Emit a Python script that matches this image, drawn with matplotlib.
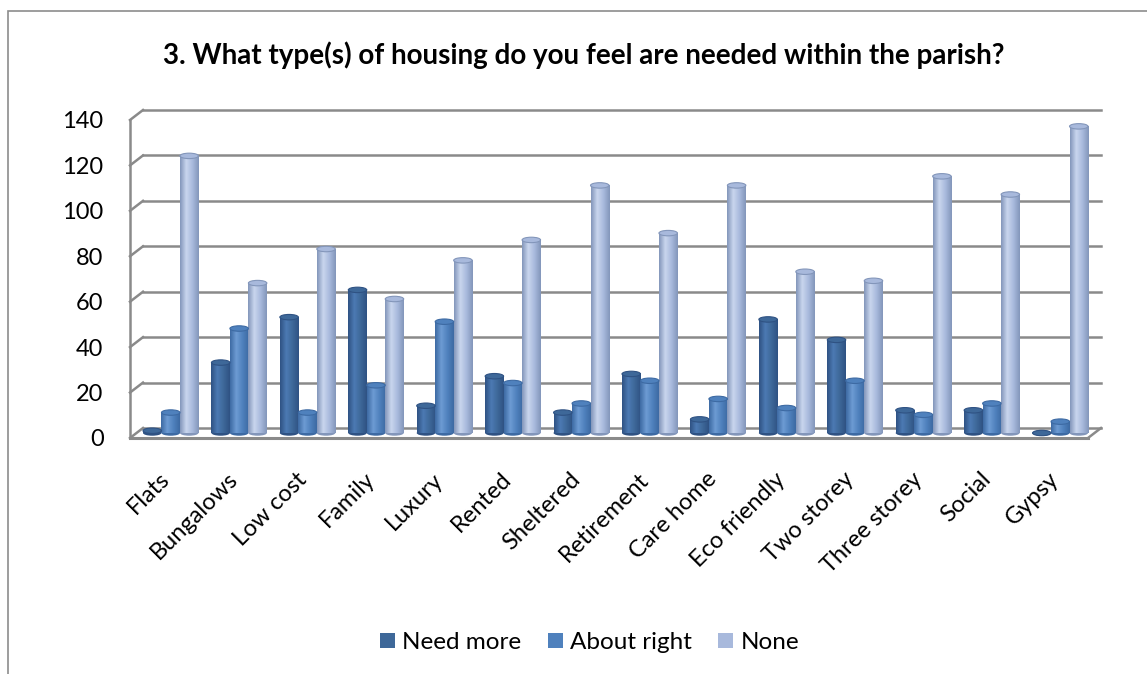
import matplotlib
matplotlib.use("Agg")
import matplotlib.pyplot as plt
import matplotlib.transforms as mtransforms
from matplotlib.patches import Ellipse, Rectangle, Patch
import numpy as np

categories = ["Flats", "Bungalows", "Low cost", "Family", "Luxury", "Rented",
              "Sheltered", "Retirement", "Care home", "Eco friendly",
              "Two storey", "Three storey", "Social", "Gypsy"]
need_more = [1, 31, 51, 63, 12, 25, 9, 26, 6, 50, 41, 10, 10, 0]
about_right = [9, 46, 9, 21, 49, 22, 13, 23, 15, 11, 23, 8, 13, 5]
none_vals = [122, 66, 81, 59, 76, 85, 109, 88, 109, 71, 67, 113, 105, 135]

series_names = ["Need more", "About right", "None"]
series_vals = [need_more, about_right, none_vals]
# (dark edge, highlight, legend colour)
series_cols = [("#2f5283", "#4c7ab3", "#3e6899"),
               ("#3d6aa3", "#6d9bd3", "#4f81bd"),
               ("#8396ba", "#c9d6ee", "#a8b9dc")]

plt.rcParams["font.family"] = ["Lato", "DejaVu Sans"]

fig = plt.figure(figsize=(11.47, 6.74), dpi=100)
ax = fig.add_axes([130 / 1147, 236 / 674, 958 / 1147, 318 / 674])
ax.set_xlim(-0.5, 13.5)
ax.set_ylim(0, 140)
for s in ax.spines.values():
    s.set_visible(False)

# depth offsets (back wall / middle of bars)
back = ax.transData + mtransforms.ScaledTranslation(0.13, 0.10, fig.dpi_scale_trans)
mid = ax.transData + mtransforms.ScaledTranslation(0.065, 0.05, fig.dpi_scale_trans)
inv = ax.transData.inverted()

grid_c = "#8a8a8a"
yt = np.arange(0, 141, 20)
for y in yt:
    ax.plot([-0.5, 13.5], [y, y], color=grid_c, lw=1.8, transform=back,
            zorder=1, clip_on=False)
    # side wall diagonal
    q0 = inv.transform(ax.transData.transform((-0.5, y)))
    q1 = inv.transform(back.transform((-0.5, y)))
    ax.plot([q0[0], q1[0]], [q0[1], q1[1]], color=grid_c, lw=1.8, zorder=1,
            clip_on=False)
ax.plot([-0.5, -0.5], [0, 140], color=grid_c, lw=1.8, zorder=1, clip_on=False)
# floor front edge and right diagonal
ax.plot([-0.5, 13.5], [0, 0], color=grid_c, lw=2.2, zorder=1, clip_on=False)
p0 = inv.transform(ax.transData.transform((13.5, 0)))
p1 = inv.transform(back.transform((13.5, 0)))
ax.plot([p0[0], p1[0]], [p0[1], p1[1]], color=grid_c, lw=1.8, zorder=1,
        clip_on=False)

w = 0.27
x = np.arange(len(categories))
cap_h = 2.4
grad = np.linspace(0, 1, 64).reshape(1, -1)
for i, (vals, (dk, hi, base)) in enumerate(zip(series_vals, series_cols)):
    xs = x + (i - 1) * w
    cmap = matplotlib.colors.LinearSegmentedColormap.from_list(
        "c%d" % i, [dk, hi, base, dk])
    for xx, v in zip(xs, vals):
        # bottom rounding
        ax.add_patch(Ellipse((xx, 0), w, cap_h, facecolor=dk, edgecolor="none",
                             transform=mid, zorder=2, clip_on=False))
        ax.bar(xx, v, width=w, color=base, transform=mid, zorder=3, clip_on=False)
        im = ax.imshow(grad, extent=[xx - w / 2, xx + w / 2, 0, v], aspect="auto",
                       cmap=cmap, zorder=3, interpolation="bilinear")
        im.set_transform(mid)
        im.set_clip_on(False)
        ax.add_patch(Ellipse((xx, v), w, cap_h, facecolor=base, edgecolor=dk,
                             lw=0.8, transform=mid, zorder=4, clip_on=False))

ax.set_xlim(-0.5, 13.5)
ax.set_ylim(0, 140)
ax.set_aspect("auto")

ax.set_yticks(yt)
ax.set_yticklabels([str(v) for v in yt], fontsize=17)
ax.tick_params(axis="y", length=0, pad=19)
ax.set_xticks(x - 0.08)
ax.set_xticklabels(categories, rotation=45, ha="right", rotation_mode="anchor",
                   fontsize=17)
ax.tick_params(axis="x", length=0, pad=22)

fig.suptitle("3. What type(s) of housing do you feel are needed within the parish?",
             x=0.509, y=0.938, fontsize=20, fontweight="bold")

handles = [Patch(facecolor=c[2], edgecolor="none") for c in series_cols]
fig.legend(handles, series_names, loc="center", bbox_to_anchor=(0.514, 0.047),
           ncol=3, frameon=False, fontsize=17.5, handlelength=0.6,
           handleheight=0.6, handletextpad=0.3, columnspacing=1.1)

fig.patches.append(Rectangle((8 / 1147, -0.05), 1.2, (674 - 11) / 674 + 0.05,
                             transform=fig.transFigure, fill=False,
                             edgecolor="#8c8c8c", lw=1.2))

fig.savefig("out.png", dpi=100)
